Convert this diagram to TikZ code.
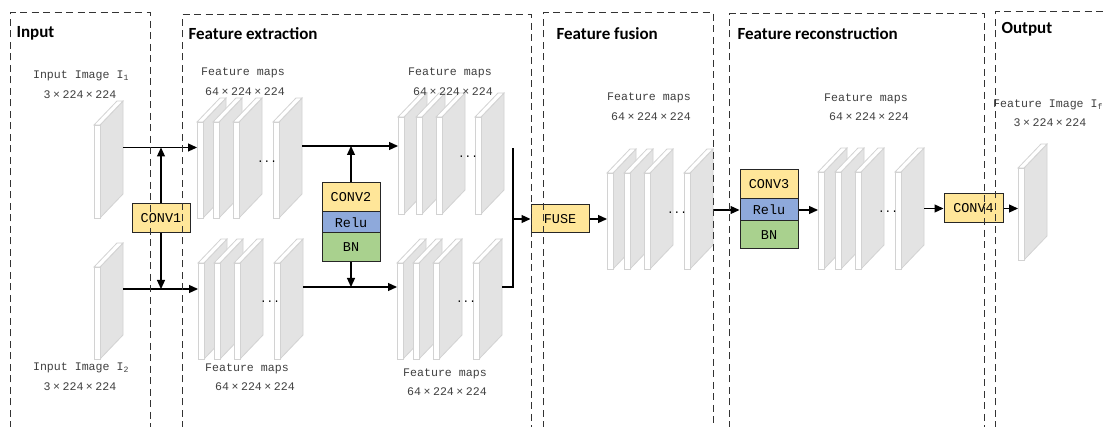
\documentclass[tikz,border=0pt]{standalone}
\usepackage{fontspec}
\setmainfont{Liberation Mono}
\newfontfamily\titlefont{Carlito}
\usetikzlibrary{arrows.meta}
\definecolor{yel}{HTML}{FFE699}
\definecolor{blu}{HTML}{8EA9DB}
\definecolor{grn}{HTML}{A9D18E}
\definecolor{sidec}{HTML}{E3E3E3}
\definecolor{edgec}{HTML}{D2D2D2}
\definecolor{framec}{HTML}{333333}
\definecolor{txtc}{HTML}{404040}
\newcommand\mytimes{\hspace{2.5pt}×\hspace{2.5pt}}
\newcommand\slab[4]{%
  \filldraw[fill=sidec,draw=edgec,line width=0.8pt] ({#2+6},#3) -- ++(23,-24) -- ++(0,#4) -- ++(-23,24) -- cycle;
  \filldraw[fill=white,draw=edgec,line width=0.8pt] (#2,#3) -- ++(6,0) -- ++(23,-24) -- ++(-6,0) -- cycle;
  \filldraw[fill=white,draw=edgec,line width=0.8pt] (#2,#3) rectangle ++(6,#4);
  \coordinate (#1-w) at (#2,{#3+#4/2});
  \coordinate (#1-e) at ({#2+29},{#3-24+#4/2});
}
\begin{document}
\begin{tikzpicture}[x=1pt,y=-1pt,
  arr/.style={-{Triangle[length=9pt,width=8pt]}, line width=1.2pt},
  ln/.style={line width=1.2pt},
  box/.style={draw=black!85, line width=1pt, minimum width=58pt, inner sep=0pt, font=\fontsize{13.5}{14}\selectfont},
  frame/.style={draw=framec, line width=1pt, dash pattern=on 7pt off 4.5pt},
  ttl/.style={anchor=west, font=\titlefont\bfseries\fontsize{17}{19}\selectfont},
  lbl/.style={text=txtc, font=\fontsize{11.6}{13}\selectfont, inner sep=0pt},
  dots/.style={font=\fontsize{11}{11}\selectfont, inner sep=0pt}]
\useasboundingbox (0,0) rectangle (1104,427);
\clip (0,0) rectangle (1104,427);
\fill[white] (0,0) rectangle (1104,427);

% slabs
\slab{i1}{94}{125}{93}
\slab{i2}{94}{267}{92}
\slab{a1}{197}{122}{96}\slab{a2}{213}{122}{96}\slab{a3}{233}{122}{96}\slab{a4}{273}{122}{96}
\slab{c1}{198}{263}{96}\slab{c2}{214}{263}{96}\slab{c3}{234}{263}{96}\slab{c4}{274}{263}{96}
\slab{b1}{398}{117}{97}\slab{b2}{416}{117}{97}\slab{b3}{436}{117}{97}\slab{b4}{475}{117}{97}
\slab{d1}{397}{263}{96}\slab{d2}{413}{263}{96}\slab{d3}{433}{263}{96}\slab{d4}{473}{263}{96}
\slab{f1}{607}{173}{96}\slab{f2}{624}{173}{96}\slab{f3}{644}{173}{96}\slab{f4}{684}{173}{96}
\slab{r1}{818}{172}{97}\slab{r2}{835}{172}{97}\slab{r3}{855}{172}{97}\slab{r4}{895}{172}{97}
\slab{o1}{1018}{168}{92}

\node[dots] (da) at (267,162) {...};
\node[dots] (dc) at (270,302) {...};
\node[dots] (db) at (468,157) {...};
\node[dots] (dd) at (466,302) {...};
\node[dots] (df) at (677,213) {...};
\node[dots] (dr) at (888,212) {...};

% boxes
\node[box, fill=yel, minimum height=29pt] (conv1) at (161,218.5) {CONV1};
\node[box, fill=yel, minimum height=29pt] (conv2) at (351,197.5) {CONV2};
\node[box, fill=blu, minimum height=21pt] (relu2) at (351,222.5) {Relu};
\node[box, fill=grn, minimum height=29pt] (bn2) at (351,247.5) {BN};
\node[box, fill=yel, minimum height=28pt] (fuse) at (560,219) {FUSE};
\node[box, fill=yel, minimum height=29pt] (conv3) at (769,184.5) {CONV3};
\node[box, fill=blu, minimum height=22pt] (relu3) at (769,210) {Relu};
\node[box, fill=grn, minimum height=28pt] (bn3) at (769,235) {BN};
\node[box, fill=yel, minimum height=29pt, minimum width=59pt] (conv4) at (973.5,208.5) {CONV4};

% connectors
\draw[arr] (i1-e) -- (i1-e -| a1-w);
\draw[arr] (i2-e) -- (i2-e -| c1-w);
\draw[arr] (conv1.north) -- (conv1.north |- i1-e);
\draw[arr] (conv1.south) -- (conv1.south |- i2-e);
\draw[arr] (a4-e) -- (a4-e -| b1-w);
\draw[arr] (c4-e) -- (c4-e -| d1-w);
\draw[arr] (conv2.north) -- (conv2.north |- a4-e);
\draw[arr] (bn2.south) -- (bn2.south |- c4-e);
\coordinate (mtop) at (513,148);
\coordinate (mbot) at (513,287);
\draw[ln] (d4-e |- mbot) -- (mbot) -- (mtop);
\draw[arr] (fuse.west -| mtop) -- (fuse.west);
\draw[arr] (fuse.east) -- (fuse.east -| f1-w);
\draw[arr] (relu3.west -| f4-e) -- (relu3.west);
\draw[arr] (relu3.east) -- (relu3.east -| r1-w);
\draw[arr] (conv4.west -| r4-e) -- (conv4.west);
\draw[arr] (conv4.east) -- (conv4.east -| o1-w);

% labels
\node[lbl] (l1a) at (81,76) {Input Image I\textsubscript{1}};
\node[lbl] (l1b) at (80,95) {3\mytimes224\mytimes224};
\node[lbl] (l2a) at (81,368) {Input Image I\textsubscript{2}};
\node[lbl] (l2b) at (80,387) {3\mytimes224\mytimes224};
\node[lbl] (la1) at (243,73) {Feature maps};
\node[lbl] (la2) at (245,92) {64\mytimes224\mytimes224};
\node[lbl] (lb1) at (450,73) {Feature maps};
\node[lbl] (lb2) at (453,92) {64\mytimes224\mytimes224};
\node[lbl] (lc1) at (247,369) {Feature maps};
\node[lbl] (lc2) at (255,387) {64\mytimes224\mytimes224};
\node[lbl] (ld1) at (445,374) {Feature maps};
\node[lbl] (ld2) at (447,392) {64\mytimes224\mytimes224};
\node[lbl] (lf1) at (649,98) {Feature maps};
\node[lbl] (lf2) at (651,117) {64\mytimes224\mytimes224};
\node[lbl] (lr1) at (866,99) {Feature maps};
\node[lbl] (lr2) at (869,117) {64\mytimes224\mytimes224};
\node[lbl, anchor=west] (lo1) at (993,105) {Feature Image I\textsubscript{f}};
\node[lbl] (lo2) at (1050,123) {3\mytimes224\mytimes224};

% frames
\draw[frame] (10,440) -- (10,13) -- (150,13) -- (150,440);
\draw[frame] (182,440) -- (182,15) -- (531,15) -- (531,440);
\draw[frame] (543,440) -- (543,13) -- (713,13) -- (713,440);
\draw[frame] (729,440) -- (729,14) -- (984,14) -- (984,440);
\draw[frame] (995,440) -- (995,12) -- (1110,12);

\node[ttl] (t1) at (13,33) {Input};
\node[ttl] (t2) at (185,34) {Feature extraction};
\node[ttl] (t3) at (553,34) {Feature fusion};
\node[ttl] (t4) at (734,34) {Feature reconstruction};
\node[ttl] (t5) at (998,29) {Output};
\end{tikzpicture}
\end{document}
